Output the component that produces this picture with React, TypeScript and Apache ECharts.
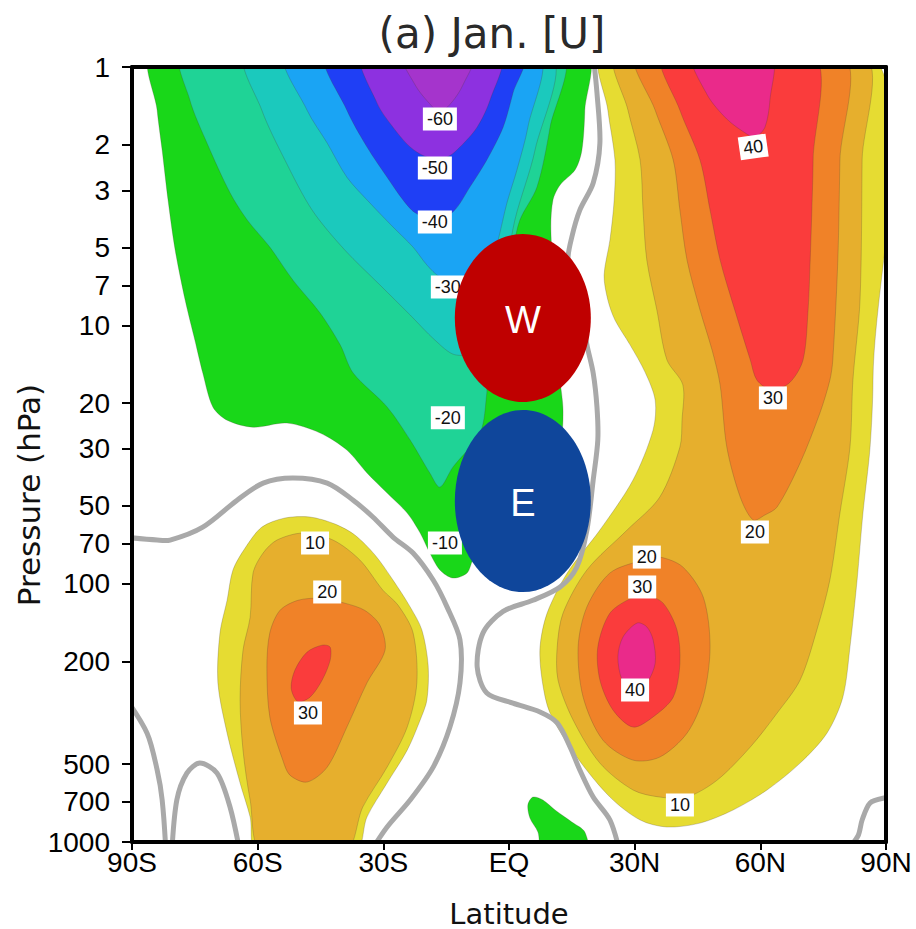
import React, { useEffect, useRef } from "react";
import * as echarts from "echarts";

type Pt = [number, number];

// ---- axes ----
const LAT_TICKS = [-90, -60, -30, 0, 30, 60, 90];
const PRESSURE_TICKS = [1, 2, 3, 5, 7, 10, 20, 30, 50, 70, 100, 200, 500, 700, 1000];

// ---- filled contour outlines: [latitude (deg, S<0), pressure (hPa)] ----
const uNeg10: Pt[] = [[-85.0, 0.9], [-84.0, 1.47], [-82.8, 2.1], [-81.4, 3.27], [-79.7, 5.11], [-77.3, 8.0], [-75.0, 11.4], [-73.1, 15.3], [-70.7, 20.7], [-67.3, 23.3], [-61.1, 24.8], [-53.0, 23.9], [-45.1, 26.1], [-38.7, 30.4], [-33.9, 37.3], [-29.1, 44.6], [-24.3, 53.3], [-21.2, 63.7], [-18.9, 76.1], [-16.5, 88.5], [-13.4, 95.1], [-10.0, 90.9], [-8.6, 81.0], [-4.5, 67.8], [0.2, 52.0], [7.4, 36.3], [12.2, 27.8], [12.9, 21.3], [12.2, 16.3], [11.0, 8.0], [10.0, 4.27], [10.5, 3.27], [12.2, 2.86], [15.8, 2.5], [17.4, 2.1], [18.1, 1.47], [18.1, 0.9]];
const uNeg20: Pt[] = [[-77.8, 0.9], [-76.2, 1.34], [-72.1, 1.97], [-66.6, 3.07], [-62.5, 3.91], [-57.1, 4.98], [-51.6, 6.68], [-45.1, 8.96], [-40.3, 11.9], [-37.2, 15.3], [-29.1, 20.7], [-23.6, 27.8], [-18.9, 37.3], [-16.5, 42.3], [-13.4, 35.4], [-6.9, 26.1], [-5.3, 18.3], [-5.3, 16.3], [-2.2, 9.54], [0.95, 5.11], [2.6, 3.91], [6.7, 2.91], [9.8, 1.71], [12.2, 0.9]];
const uNeg30: Pt[] = [[-62.5, 0.9], [-59.0, 1.47], [-53.5, 2.29], [-47.0, 3.58], [-39.2, 5.11], [-30.8, 6.98], [-23.6, 9.12], [-17.7, 11.4], [-12.9, 13.0], [-6.9, 12.5], [-2.2, 8.0], [1.4, 3.91], [6.2, 2.1], [9.5, 0.9]];
const uNeg40: Pt[] = [[-53.0, 0.9], [-48.2, 1.47], [-43.4, 1.97], [-38.7, 2.67], [-33.2, 3.36], [-27.7, 4.16], [-22.9, 4.98], [-19.6, 5.84], [-16.5, 6.5], [-12.4, 6.8], [-8.1, 6.98], [-4.5, 5.84], [-2.6, 4.67], [-0.5, 3.36], [1.9, 2.5], [4.5, 1.71], [6.7, 0.9]];
const uNeg50: Pt[] = [[-43.4, 0.9], [-38.7, 1.47], [-33.9, 2.04], [-29.1, 2.67], [-25.3, 3.27], [-22.4, 3.67], [-18.1, 3.88], [-13.4, 3.64], [-9.3, 2.91], [-5.3, 2.29], [-1.4, 1.71], [0.95, 1.26], [3.3, 0.9]];
const uNeg60: Pt[] = [[-34.9, 0.9], [-31.5, 1.38], [-27.7, 1.71], [-23.6, 2.04], [-19.6, 2.23], [-14.8, 2.23], [-11.7, 2.04], [-7.6, 1.71], [-4.5, 1.34], [-2.2, 0.9]];
const uNeg70: Pt[] = [[-25.3, 0.9], [-22.4, 1.174], [-19.3, 1.366], [-16.5, 1.494], [-13.6, 1.366], [-11.0, 1.174], [-8.6, 0.9]];
const uNeg10Surface: Pt[] = [[5.7, 670], [4.5, 719], [5.0, 808], [6.9, 915], [8.1, 1100], [18.6, 1100], [18.1, 915], [15.0, 837], [11.0, 752], [8.1, 688]];

const uPos10Nh: Pt[] = [[22.4, 0.9], [23.6, 1.47], [25.3, 2.29], [25.1, 3.27], [24.1, 4.67], [22.7, 6.39], [23.6, 7.98], [25.3, 9.54], [28.9, 11.9], [32.5, 15.2], [34.9, 19.5], [34.4, 25.4], [29.6, 39.7], [21.7, 62.0], [13.9, 90.9], [9.1, 130], [7.4, 176], [7.9, 236], [9.8, 317], [16.2, 469], [24.1, 670], [31.3, 822], [37.7, 875], [45.6, 845], [53.5, 752], [61.6, 629], [69.5, 495], [75.9, 379], [79.7, 275], [81.4, 176], [83.1, 96.8], [84.5, 53.3], [86.2, 29.6], [86.9, 16.3], [86.9, 0.9]];
const uPos20Nh: Pt[] = [[25.8, 0.9], [28.4, 1.47], [31.3, 2.29], [32.0, 3.58], [32.9, 5.59], [35.3, 8.72], [37.7, 13.6], [41.5, 17.0], [41.3, 23.3], [40.8, 29.6], [36.0, 46.2], [28.2, 62.0], [18.6, 88.5], [12.9, 130], [11.5, 176], [11.7, 236], [15.3, 337], [21.7, 495], [29.6, 629], [36.0, 670], [42.5, 670], [49.7, 576], [57.6, 429], [64.0, 317], [69.5, 236], [73.5, 151], [76.6, 96.8], [79.0, 53.3], [81.4, 29.6], [82.1, 16.3], [83.8, 8.0], [84.3, 2.29], [84.5, 0.9]];
const uPos30NhStrat: Pt[] = [[30.6, 0.9], [34.9, 1.47], [39.2, 2.29], [40.8, 3.58], [42.5, 5.59], [45.6, 8.72], [48.5, 12.5], [50.4, 17.0], [52.0, 29.6], [55.2, 46.2], [58.3, 56.7], [61.1, 54.2], [64.0, 50.5], [69.5, 34.1], [74.2, 21.9], [76.6, 16.3], [77.3, 13.6], [78.5, 5.59], [79.0, 2.29], [79.5, 0.9]];
const uPos40NhStrat: Pt[] = [[36.8, 0.9], [40.8, 1.47], [45.6, 2.29], [48.0, 3.58], [50.4, 5.59], [53.9, 8.72], [57.6, 13.6], [59.2, 16.3], [62.8, 17.8], [67.1, 16.6], [70.2, 13.6], [71.4, 8.72], [71.9, 5.59], [72.3, 3.58], [72.6, 2.29], [72.6, 0.9]];
const uPos50NhStrat: Pt[] = [[43.9, 0.9], [47.3, 1.28], [52.0, 1.59], [56.4, 1.8], [58.7, 1.87], [61.1, 1.71], [62.3, 1.34], [62.5, 0.9]];
const uPos30NhJet: Pt[] = [[32.0, 81.0], [24.1, 90.9], [18.6, 123], [16.5, 176], [17.7, 275], [22.4, 403], [29.6, 482], [36.0, 469], [42.5, 379], [46.4, 275], [48.0, 176], [46.4, 113], [41.5, 86.2], [36.0, 78.9]];
const uPos40NhJet: Pt[] = [[29.6, 113], [24.1, 130], [21.2, 176], [21.7, 236], [24.8, 308], [29.6, 359], [34.4, 328], [39.2, 275], [40.8, 203], [40.1, 151], [36.8, 119], [32.9, 111]];
const uPos50NhJet: Pt[] = [[30.6, 142], [27.2, 161], [26.0, 192], [27.0, 236], [29.6, 263], [32.9, 242], [34.9, 203], [34.4, 165], [32.9, 147]];

const uPos10Sh: Pt[] = [[-60.2, 1100], [-61.8, 800], [-64.2, 591], [-67.3, 379], [-69.5, 242], [-69.0, 155], [-67.3, 116], [-65.9, 88.5], [-63.0, 72.8], [-59.0, 60.4], [-53.5, 55.7], [-47.5, 55.2], [-41.5, 58.8], [-36.8, 64.8], [-32.0, 77.4], [-27.7, 96.8], [-23.6, 123], [-20.8, 151], [-19.3, 207], [-19.6, 282], [-21.2, 337], [-24.3, 441], [-29.1, 591], [-33.9, 800], [-36.8, 1100]];
const uPos20Sh: Pt[] = [[-59.0, 1100], [-61.8, 688], [-63.5, 441], [-64.2, 282], [-63.5, 181], [-61.8, 135], [-61.1, 90.9], [-58.7, 76.1], [-55.4, 67.8], [-49.2, 63.7], [-42.0, 67.8], [-35.6, 81.0], [-30.1, 106], [-26.5, 121], [-22.9, 155], [-22.0, 242], [-24.3, 359], [-29.1, 513], [-34.9, 732], [-39.2, 1100]];
const uPos30Sh: Pt[] = [[-45.1, 114], [-39.2, 119], [-34.4, 127], [-30.8, 145], [-29.6, 181], [-33.9, 242], [-38.7, 359], [-43.4, 513], [-48.2, 586], [-52.3, 551], [-54.0, 482], [-57.1, 328], [-57.8, 210], [-57.1, 155], [-54.7, 127], [-50.4, 116]];
const uPos40Sh: Pt[] = [[-44.6, 173], [-48.2, 184], [-51.1, 216], [-52.0, 254], [-50.4, 286], [-47.5, 275], [-44.6, 236], [-42.7, 198], [-42.7, 176]];

// ---- zero-wind contour (thick grey) ----
const zeroTropics: Pt[] = [[20.1, 0.9], [21.0, 1.26], [21.7, 1.97], [20.1, 2.81], [16.9, 3.58], [15.0, 4.55], [14.1, 5.59], [15.8, 6.98], [17.9, 8.72], [18.4, 11.4], [20.1, 15.3], [21.0, 20.7], [21.2, 27.8], [20.1, 39.7], [18.6, 62.0], [16.2, 86.2], [12.2, 103], [5.7, 116], [-1.4, 128], [-6.2, 155], [-7.6, 210], [-5.3, 265], [0.95, 290], [7.4, 314], [11.5, 346], [14.6, 429], [16.9, 526], [20.1, 670], [24.1, 822], [26.5, 1100]];
const zeroSh: Pt[] = [[-92, 66], [-84.0, 67.8], [-80.9, 67.8], [-73.1, 60.4], [-64.9, 47.5], [-58.7, 40.8], [-51.6, 39.0], [-43.4, 40.8], [-37.2, 47.5], [-32.5, 55.2], [-27.7, 66.0], [-22.9, 76.1], [-18.1, 96.8], [-14.8, 123], [-11.7, 165], [-11.7, 242], [-14.1, 359], [-18.1, 513], [-23.6, 688], [-29.1, 875], [-33.2, 1100]];
const zeroPolarSh: Pt[] = [[-92, 270], [-86.4, 379], [-84.0, 526], [-82.8, 688], [-81.9, 1100]];
const zeroHumpSh: Pt[] = [[-80.5, 1100], [-79.3, 688], [-76.9, 541], [-73.8, 495], [-69.7, 541], [-66.6, 732], [-64.2, 1100]];
const zeroPolarNh: Pt[] = [[80.2, 1100], [83.3, 948], [84.3, 822], [86.2, 706], [89.5, 676], [92, 676]];

// ---- contour labels: [lat, hPa, text] ----
const CONTOUR_LABELS: [number, number, string][] = [
  [-16.5, 1.59, "-60"], [-17.7, 2.46, "-50"], [-17.7, 3.98, "-40"], [-14.6, 7.1, "-30"],
  [-14.6, 22.8, "-20"], [-15.3, 69.6, "-10"],
  [58.3, 2.04, "40"], [63.0, 19.1, "30"], [58.7, 63.1, "20"],
  [32.9, 78.9, "20"], [31.8, 103, "30"], [30.1, 258, "40"], [40.8, 719, "10"],
  [-46.3, 69.6, "10"], [-43.4, 107.7, "20"], [-48.0, 316.7, "30"],
];

// ---- W / E annotation bubbles: [lat, hPa, text] ----
const BUBBLES: [number, number, string][] = [[3.3, 9.37, "W"], [3.3, 47.9, "E"]];

const latLabel = (v: number) => (v === 0 ? "EQ" : v < 0 ? `${-v}S` : `${v}N`);

export default function App() {
  const ref = useRef<HTMLDivElement>(null);
  useEffect(() => {
    if (!ref.current) return;
    const chart = echarts.init(ref.current, null, { renderer: "svg" });

    const fills = [
      { pts: uNeg10, color: "#19d719" },
      { pts: uNeg20, color: "#1fd396" },
      { pts: uNeg30, color: "#1bc9bd" },
      { pts: uNeg40, color: "#1aa4f4" },
      { pts: uNeg50, color: "#1f3ff5" },
      { pts: uNeg60, color: "#8d31e0" },
      { pts: uNeg70, color: "#a534cc" },
      { pts: uNeg10Surface, color: "#19d719" },
      { pts: uPos10Nh, color: "#e6dc32" },
      { pts: uPos20Nh, color: "#e6af2d" },
      { pts: uPos30NhStrat, color: "#f08228" },
      { pts: uPos40NhStrat, color: "#fa3c3c" },
      { pts: uPos50NhStrat, color: "#ea2a8a" },
      { pts: uPos30NhJet, color: "#f08228" },
      { pts: uPos40NhJet, color: "#fa3c3c" },
      { pts: uPos50NhJet, color: "#ea2a8a" },
      { pts: uPos10Sh, color: "#e6dc32" },
      { pts: uPos20Sh, color: "#e6af2d" },
      { pts: uPos30Sh, color: "#f08228" },
      { pts: uPos40Sh, color: "#fa3c3c" },
    ];
    const zeroLines = [zeroTropics, zeroSh, zeroPolarSh, zeroHumpSh, zeroPolarNh];
    const bubbleStyle = [
      { rx: 68, ry: 84, fill: "#bf0000" },
      { rx: 68, ry: 91, fill: "#0f469b" },
    ];

    const frameLine = { show: true, onZero: false, lineStyle: { color: "#000", width: 4 } };
    const tickFont = "'Liberation Sans', Arial, sans-serif";
    const nameFont = "'DejaVu Sans', sans-serif";

    chart.setOption({
      animation: false,
      backgroundColor: "#fff",
      grid: { left: 132, top: 67, right: 30, bottom: 87, containLabel: false, outerBoundsMode: "none" },
      graphic: [
        {
          type: "text", x: 492, y: 33, z: 20,
          style: { text: "(a) Jan. [U]", font: `42px ${nameFont}`, fill: "#2a2a2a", align: "center", verticalAlign: "middle" },
        },
        {
          type: "text", x: 29, y: 495, rotation: Math.PI / 2, z: 20,
          style: { text: "Pressure (hPa)", font: `31px ${nameFont}`, fill: "#111", align: "center", verticalAlign: "middle" },
        },
      ],
      xAxis: [
        {
          type: "value", min: -90, max: 90, interval: 30, position: "bottom", z: 10,
          axisLine: frameLine,
          axisTick: { show: true, length: 8, lineStyle: { color: "#000", width: 2 } },
          axisLabel: { formatter: latLabel, color: "#000", fontSize: 28, fontFamily: tickFont, margin: 6 },
          splitLine: { show: false },
          name: "Latitude", nameLocation: "middle", nameGap: 57,
          nameTextStyle: { fontSize: 29, fontFamily: nameFont, color: "#111" },
        },
        {
          type: "value", min: -90, max: 90, position: "top", z: 10,
          axisLine: frameLine, axisTick: { show: false }, axisLabel: { show: false }, splitLine: { show: false },
        },
      ],
      yAxis: [
        {
          type: "log", logBase: 10, min: 1, max: 1000, inverse: true, position: "left", z: 10,
          axisLine: frameLine,
          axisTick: { show: true, length: 10, customValues: PRESSURE_TICKS, lineStyle: { color: "#000", width: 2 } },
          axisLabel: {
            customValues: PRESSURE_TICKS, formatter: (v: number) => String(Math.round(v)),
            color: "#000", fontSize: 28, fontFamily: tickFont, margin: 22,
          },
          minorTick: { show: false },
          splitLine: { show: false },
        },
        {
          type: "value", min: 0, max: 1, position: "right", z: 10,
          axisLine: frameLine, axisTick: { show: false }, axisLabel: { show: false }, splitLine: { show: false },
        },
      ],
      series: [
        {
          type: "custom", name: "U shading", coordinateSystem: "cartesian2d", xAxisIndex: 0, yAxisIndex: 0,
          clip: true, silent: true, z: 2,
          data: fills.map(() => [0, 10]),
          renderItem: (params: any, api: any) => {
            const layer = fills[params.dataIndex];
            return {
              type: "polygon",
              shape: { points: layer.pts.map((d) => api.coord(d)), smooth: 0.3 },
              style: { fill: layer.color, stroke: "rgba(70,60,50,0.3)", lineWidth: 0.8 },
            };
          },
        },
        {
          type: "custom", name: "U = 0", coordinateSystem: "cartesian2d", xAxisIndex: 0, yAxisIndex: 0,
          clip: true, silent: true, z: 3,
          data: zeroLines.map(() => [0, 10]),
          renderItem: (params: any, api: any) => ({
            type: "polyline",
            shape: { points: zeroLines[params.dataIndex].map((d) => api.coord(d)), smooth: 0.3 },
            style: { fill: "none", stroke: "#a9a9a9", lineWidth: 5, lineCap: "round", lineJoin: "round" },
          }),
        },
        {
          type: "custom", name: "labels", coordinateSystem: "cartesian2d", xAxisIndex: 0, yAxisIndex: 0,
          silent: true, z: 4,
          data: CONTOUR_LABELS.map(() => [0, 10]),
          renderItem: (params: any, api: any) => {
            const [lat, p, text] = CONTOUR_LABELS[params.dataIndex];
            const [x, y] = api.coord([lat, p]);
            return {
              type: "text", x, y, rotation: params.dataIndex === 6 ? 0.14 : 0,
              style: {
                text, align: "center", verticalAlign: "middle",
                font: `18px ${tickFont}`, fill: "#111",
                backgroundColor: "#fff", padding: [3, 4, 2, 4],
              },
            };
          },
        },
        {
          type: "custom", name: "bubbles", coordinateSystem: "cartesian2d", xAxisIndex: 0, yAxisIndex: 0,
          silent: true, z: 6,
          data: BUBBLES.map(() => [0, 10]),
          renderItem: (params: any, api: any) => {
            const [lat, p, text] = BUBBLES[params.dataIndex];
            const st = bubbleStyle[params.dataIndex];
            const [cx, cy] = api.coord([lat, p]);
            return {
              type: "group",
              children: [
                { type: "ellipse", shape: { cx, cy, rx: st.rx, ry: st.ry }, style: { fill: st.fill } },
                {
                  type: "text", x: cx, y: cy + 2,
                  style: { text, fill: "#fff", font: `38px ${tickFont}`, align: "center", verticalAlign: "middle" },
                },
              ],
            };
          },
        },
      ],
    });
    return () => chart.dispose();
  }, []);
  return <div ref={ref} style={{ position: "fixed", left: 0, top: 0, width: 916, height: 929 }} />;
}
